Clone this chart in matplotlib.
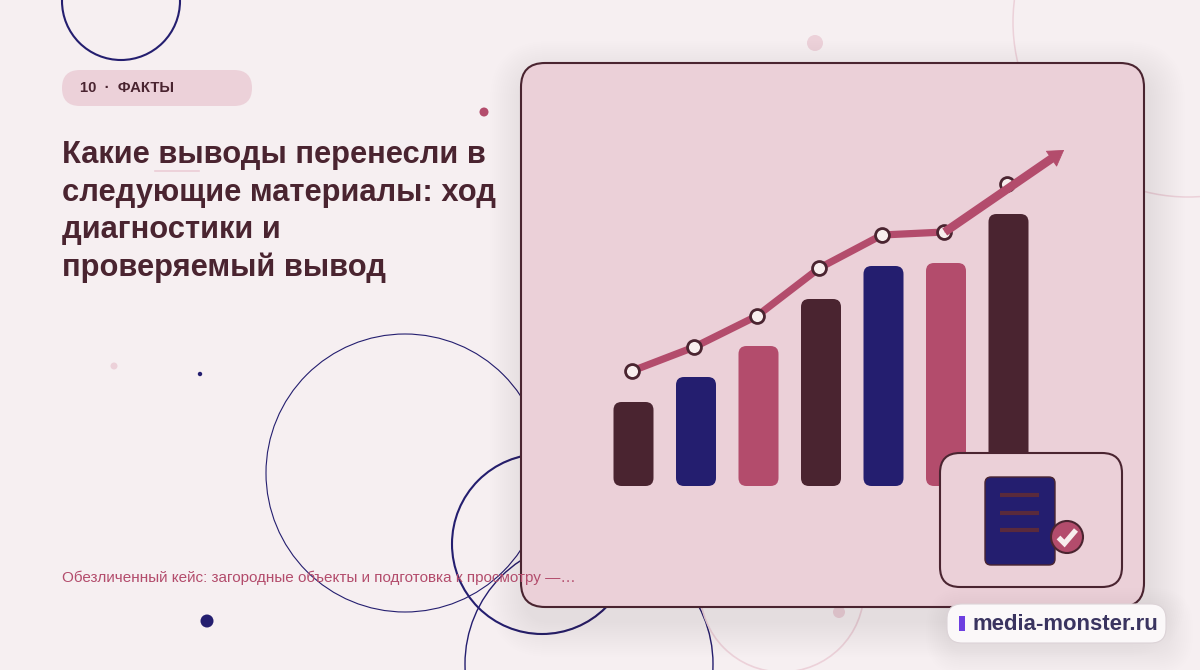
import matplotlib
matplotlib.use("Agg")
import matplotlib.pyplot as plt
from matplotlib.patches import FancyBboxPatch, Circle, Rectangle

plt.rcParams['font.family'] = ['Liberation Sans', 'DejaVu Sans']

BG, CARD, DARK, NAVY, ROSE, PALE = '#f6eff1', '#ebd0d8', '#4a2430', '#241e6f', '#b34c6c', '#ecd1d9'

badge_text = '10  ·  ФАКТЫ'
title_lines = ['Какие выводы перенесли в', 'следующие материалы: ход', 'диагностики и', 'проверяемый вывод']
subtitle = 'Обезличенный кейс: загородные объекты и подготовка к просмотру —…'
brand = 'media-monster.ru'

bar_index = [0, 1, 2, 3, 4, 5, 6]
bar_values = [84, 109, 140, 187, 220, 223, 272]
bar_colors = [DARK, NAVY, ROSE, DARK, NAVY, ROSE, DARK]
line_values = [115, 139, 170, 218, 251, 254, 302]
arrow_start = (4.98, 254)
arrow_tip = (6.89, 336)
arrow_neck = (6.75, 330)

fig = plt.figure(figsize=(12, 6.7), dpi=100, facecolor=BG)


def px_axes(z):
    a = fig.add_axes([0, 0, 1, 1], zorder=z)
    a.set_xlim(0, 1200)
    a.set_ylim(670, 0)
    a.axis('off')
    a.patch.set_alpha(0)
    return a


def rbox(a, x0, y0, x1, y1, r, **kw):
    p = FancyBboxPatch((x0 + r, y0 + r), x1 - x0 - 2 * r, y1 - y0 - 2 * r,
                       boxstyle=f'round,pad={r},rounding_size={r}', **kw)
    a.add_patch(p)
    return p


ax = px_axes(1)
rings = [(121, 1, 59, NAVY, 1.5), (405, 473, 139, NAVY, 0.8), (542, 544, 90, NAVY, 1.5),
         (589, 664, 124, NAVY, 1.0), (1188, 22, 175, '#ecd1d9', 1.1), (782, 590, 82, '#ecd1d9', 1.2)]
for cx, cy, r, c, lw in rings:
    ax.add_patch(Circle((cx, cy), r, fill=False, ec=c, lw=lw))
dots = [(815, 43, 8, PALE), (484, 112, 4.5, ROSE), (114, 366, 3.5, PALE), (200, 374, 2.2, NAVY),
        (207, 621, 6.5, NAVY), (839, 612, 6, PALE)]
for cx, cy, r, c in dots:
    ax.add_patch(Circle((cx, cy), r, fc=c, ec='none'))

for g in range(36, 0, -2):
    rbox(ax, 521 + 5 - g, 63 + 14 - g, 1144 + 5 + g, 607 + 14 + g, 24 + g, fc=DARK, ec='none', alpha=0.005, zorder=2)
rbox(ax, 521, 63, 1144, 607, 24, fc=CARD, ec=DARK, lw=1.5, zorder=3)

rbox(ax, 62, 70, 252, 106, 18, fc=PALE, ec='none')

cax = fig.add_axes([600 / 1200, 1 - 486 / 670, 500 / 1200, 386 / 670], zorder=2)
cax.set_xlim((600 - 633.5) / 62.5, (1100 - 633.5) / 62.5)
cax.set_ylim(0, 386)
cax.axis('off')
cax.patch.set_alpha(0)
bars = cax.bar(bar_index, bar_values, width=40 / 62.5, color=bar_colors)
for b, c in zip(bars, bar_colors):
    b.set_visible(False)
    x, w, h = b.get_x(), b.get_width(), b.get_height()
    rs = 8 / 62.5
    cax.add_patch(FancyBboxPatch((x + rs, rs * 62.5), w - 2 * rs, h - 2 * rs * 62.5,
                                 boxstyle=f'round,pad={rs},rounding_size={rs}',
                                 mutation_aspect=62.5, fc=c, ec='none', zorder=2))
line_x = [i - 0.025 for i in bar_index]
cax.plot(line_x[:6], line_values[:6], color=ROSE, lw=5.2, zorder=3, solid_capstyle='round')
cax.plot(line_x, line_values, ls='none', marker='o', ms=10, mfc='#f8eeee', mec=DARK, mew=2.0, zorder=4)
cax.plot([arrow_start[0], arrow_neck[0]], [arrow_start[1], arrow_neck[1]], color=ROSE, lw=6.2,
         solid_capstyle='butt', zorder=5)
cax.annotate('', xy=arrow_tip, xytext=arrow_start,
             arrowprops=dict(arrowstyle='-|>,head_length=0.58,head_width=0.36', color=ROSE, lw=0.6,
                             mutation_scale=18, shrinkA=0, shrinkB=0), zorder=6, annotation_clip=False)

top = px_axes(3)
rbox(top, 940, 453, 1122, 587, 20, fc=CARD, ec=DARK, lw=1.5)
rbox(top, 985, 477, 1055, 565, 6, fc=NAVY, ec=DARK, lw=1)
for y in (495, 512.5, 529.5):
    top.plot([1000, 1039], [y, y], color='#5a2a3c', lw=3.0, solid_capstyle='butt')
top.add_patch(Circle((1067, 537), 16, fc=ROSE, ec=DARK, lw=1.5))
top.plot([1058.5, 1064.5, 1076], [537.5, 543.5, 530], color='#f8eeee', lw=3.8, solid_capstyle='butt', solid_joinstyle='miter')

for g in range(24, 0, -2):
    rbox(top, 947 - g + 3, 604 - g + 8, 1166 + g + 3, 643 + g + 8, 15 + g, fc=DARK, ec='none', alpha=0.005)
rbox(top, 947, 604, 1166, 643, 15, fc='#fbf8f9', ec='#dcd3d7', lw=0.8)
top.add_patch(Rectangle((959, 616), 6, 15, fc='#6d3fe0', ec='none'))
top.text(973, 625, brand, fontsize=15.9, fontweight='bold', color='#3a3460', va='center', ha='left')

top.text(80.5, 87.5, badge_text, fontsize=10.7, fontweight='bold', color=DARK, va='center', ha='left')
for line, base in zip(title_lines, [163, 201, 238, 276]):
    top.text(62, base, line, fontsize=22.2, fontweight='bold', color=DARK, va='baseline', ha='left')
top.plot([155, 199], [170.5, 170.5], color='#eccdd6', lw=1.2)
top.text(62, 577.5, subtitle, fontsize=10.97, color=ROSE, va='center', ha='left')

fig.savefig('out.png', dpi=100, facecolor=BG)
